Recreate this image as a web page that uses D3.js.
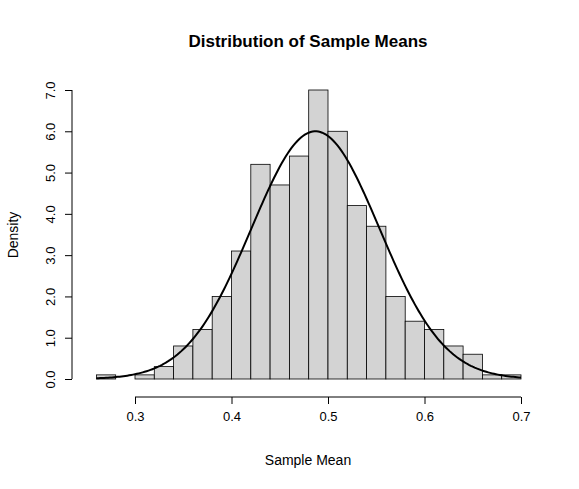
<!DOCTYPE html>
<html><head><meta charset="utf-8">
<script src="https://cdn.jsdelivr.net/npm/d3@7"></script>
<style>body{margin:0;background:#fff}text{font-family:"Liberation Sans",Arial,sans-serif}</style>
</head><body>
<svg id="c" width="579" height="489"></svg>
<script>
const binStart = [0.26,0.28,0.30,0.32,0.34,0.36,0.38,0.40,0.42,0.44,0.46,0.48,0.50,0.52,0.54,0.56,0.58,0.60,0.62,0.64,0.66,0.68];
const density = [0.1,0,0.1,0.3,0.8,1.2,2.0,3.1,5.2,4.7,5.4,7.0,6.0,4.2,3.7,2.0,1.4,1.2,0.8,0.6,0.1,0.1];
const binWidth = 0.02;
const xTicks = [0.3,0.4,0.5,0.6,0.7];
const yTicks = [0,1,2,3,4,5,6,7];
const curveMean = 0.487, curveSd = 0.0665;

const svg = d3.select("#c");
const x = d3.scaleLinear().domain([0.3,0.7]).range([135,521]);
const y = d3.scaleLinear().domain([0,7]).range([379,90]);

svg.selectAll("rect.bar").data(binStart).join("rect")
  .attr("x", d => x(d)).attr("width", (d) => x(d+binWidth)-x(d))
  .attr("y", (d,i) => y(density[i])).attr("height", (d,i) => y(0)-y(density[i]))
  .attr("fill", "#d3d3d3").attr("stroke", "#000").attr("stroke-width", 0.8);

const pts = d3.range(0.26, 0.7001, 0.002).map(v => [v,
  Math.exp(-0.5*((v-curveMean)/curveSd)**2)/(curveSd*Math.sqrt(2*Math.PI))]);
svg.append("path").datum(pts)
  .attr("d", d3.line().x(d => x(d[0])).y(d => y(d[1])))
  .attr("fill", "none").attr("stroke", "#000").attr("stroke-width", 2);

const xa = svg.append("g").attr("transform", "translate(0,397)")
  .call(d3.axisBottom(x).tickValues(xTicks).tickSize(7).tickPadding(8).tickFormat(d3.format(".1f")));
const ya = svg.append("g").attr("transform", "translate(72,0)")
  .call(d3.axisLeft(y).tickValues(yTicks).tickSize(7).tickPadding(5));
[xa, ya].forEach(a => {
  a.select(".domain").attr("d", a === xa ? `M${x(0.3)},0H${x(0.7)}` : `M0,${y(0)}V${y(7)}`);
  a.selectAll("text").attr("font-size", 13).attr("fill", "#000")
    .style("font-family", "Liberation Sans, Arial, sans-serif");
});
ya.selectAll("text").attr("text-anchor", "middle")
  .attr("transform", function(){ const yy = this.parentNode.getAttribute("transform").match(/,([\d.]+)/)[1]; return null; })
  .each(function(){ d3.select(this).attr("x", null).attr("dy", null)
    .attr("transform", "translate(-17,0) rotate(-90)"); });

svg.append("text").attr("x", 308).attr("y", 47).attr("text-anchor", "middle")
  .attr("font-size", 17).attr("font-weight", "bold").text("Distribution of Sample Means");
svg.append("text").attr("x", 308).attr("y", 465).attr("text-anchor", "middle")
  .attr("font-size", 14).text("Sample Mean");
svg.append("text").attr("transform", "translate(18,235) rotate(-90)").attr("text-anchor", "middle")
  .attr("font-size", 14).text("Density");
</script>
</body></html>
